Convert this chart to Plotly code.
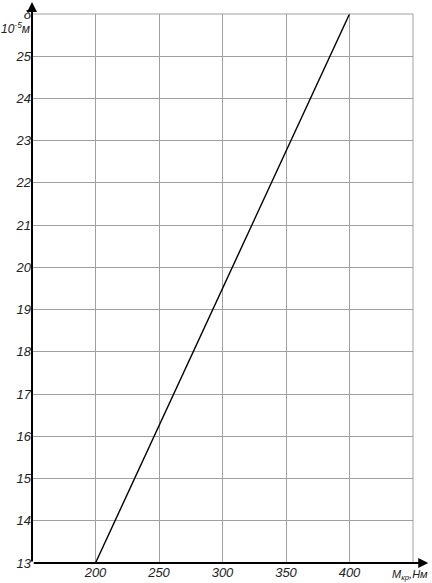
import plotly.graph_objects as go

torque = [200, 250, 300, 350, 400]
delta = [13.0, 16.25, 19.5, 22.75, 26.0]
x_ticks = [200, 250, 300, 350, 400]
y_ticks = list(range(13, 27))
y_labels = [str(v) for v in range(13, 26)] + ["δ"]

FONT = "Liberation Sans Narrow, Liberation Sans, DejaVu Sans Condensed, sans-serif"
TXT = "#222"

fig = go.Figure()
fig.add_trace(go.Scatter(x=torque, y=delta, mode="lines",
                         line=dict(color="black", width=1.4), showlegend=False,
                         hoverinfo="skip"))

fig.update_layout(
    width=432, height=583,
    margin=dict(l=32, r=19, t=14, b=20, autoexpand=False),
    paper_bgcolor="white", plot_bgcolor="white",
    font=dict(family=FONT, size=13, color=TXT, style="italic"),
    xaxis=dict(range=[150, 450], tickvals=x_ticks, ticktext=[str(v) for v in x_ticks],
               showgrid=True, gridcolor="#a0a0a0", gridwidth=1,
               zeroline=False, showline=False, ticks="", ticklen=0,
               automargin=False,
               tickfont=dict(family=FONT, size=13, color=TXT, style="italic"),
               fixedrange=True),
    yaxis=dict(range=[13, 26], tickvals=y_ticks, ticktext=y_labels,
               showgrid=True, gridcolor="#a0a0a0", gridwidth=1,
               zeroline=False, showline=False, ticks="", ticklen=0,
               automargin=False,
               tickfont=dict(family=FONT, size=13, color=TXT, style="italic"),
               fixedrange=True),
)

# frame on top and right
fig.add_shape(type="line", xref="paper", yref="paper", x0=0, x1=1, y0=1, y1=1,
              line=dict(color="#a0a0a0", width=1))
fig.add_shape(type="line", xref="paper", yref="paper", x0=1, x1=1, y0=0, y1=1,
              line=dict(color="#a0a0a0", width=1))

# axes with arrows
fig.add_annotation(xref="paper", yref="paper", x=0, y=1.022, ax=0, ay=561,
                   text="", showarrow=True,
                   arrowhead=2, arrowsize=1, arrowwidth=2, arrowcolor="black")
fig.add_annotation(xref="paper", yref="paper", x=1.04, y=0, ax=-396, ay=0,
                   text="", showarrow=True,
                   arrowhead=2, arrowsize=1, arrowwidth=2, arrowcolor="black")

# axis units
fig.add_annotation(xref="paper", yref="paper", x=-0.042, y=1 - 14 / 549,
                   text="10<sup>-5</sup>м", showarrow=False,
                   font=dict(family=FONT, size=12, color=TXT, style="italic"),
                   xanchor="center", yanchor="middle")
fig.add_annotation(xref="paper", yref="paper", x=(410 - 32) / 381, y=-12 / 549,
                   text="M<sub>кр</sub>,Нм", showarrow=False,
                   font=dict(family=FONT, size=11, color=TXT, style="italic"),
                   xanchor="center", yanchor="middle")

fig.write_html("out.html", config={"displayModeBar": False},
               post_script="document.body.style.margin='0';document.body.style.padding='0';")
